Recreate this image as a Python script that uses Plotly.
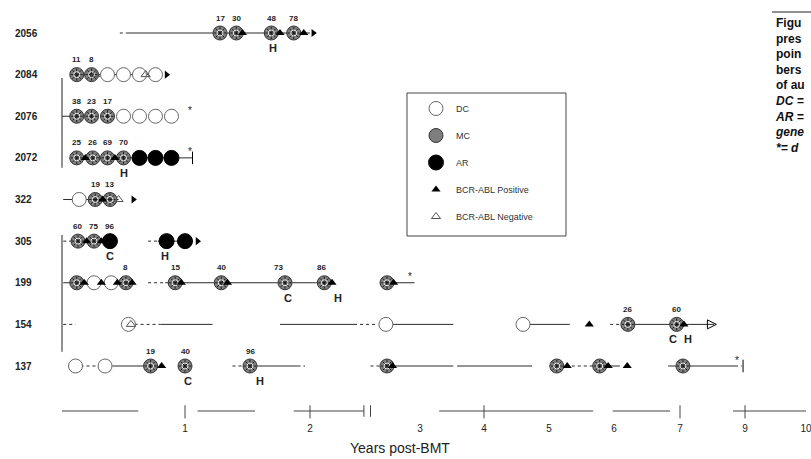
import numpy as np
import plotly.graph_objects as go

# ---------------- data ----------------
ROWS = ["137", "154", "199", "305", "322", "2072", "2076", "2084", "2056"]

# broken / non-linear time axis: year -> axis position
TICK_YEARS = [0, 1, 2, 3, 4, 5, 6, 7, 9, 10]
TICK_POS = [62, 185, 310, 420, 484, 549, 614, 680, 745, 806]
TICK_TEXT = ["1", "2", "3", "4", "5", "6", "7", "9", "10"]

DC_PTS = [("2084", 0.37), ("2084", 0.50), ("2084", 0.63), ("2084", 0.76),
          ("2076", 0.50), ("2076", 0.63), ("2076", 0.76), ("2076", 0.89),
          ("322", 0.14), ("199", 0.26), ("199", 0.40),
          ("154", 0.54), ("154", 2.69), ("154", 4.60),
          ("137", 0.11), ("137", 0.35)]
MC_PTS = [("2056", 1.28), ("2056", 1.41), ("2056", 1.69), ("2056", 1.87),
          ("2084", 0.12), ("2084", 0.24),
          ("2076", 0.12), ("2076", 0.24), ("2076", 0.37),
          ("2072", 0.12), ("2072", 0.25), ("2072", 0.37), ("2072", 0.50),
          ("322", 0.27), ("322", 0.39),
          ("305", 0.13), ("305", 0.26),
          ("199", 0.12), ("199", 0.52), ("199", 0.92), ("199", 1.29), ("199", 1.80),
          ("199", 2.13), ("199", 2.70),
          ("154", 6.21), ("154", 6.95),
          ("137", 0.72), ("137", 1.00), ("137", 1.52), ("137", 2.70), ("137", 5.12),
          ("137", 5.78), ("137", 7.09)]
AR_PTS = [("2072", 0.63), ("2072", 0.76), ("2072", 0.89),
          ("305", 0.39), ("305", 0.85), ("305", 1.00)]
POS_PTS = [("2056", 1.46), ("2056", 1.76), ("2056", 1.95),
           ("2072", 0.19), ("2072", 0.43), ("322", 0.33),
           ("305", 0.20), ("305", 0.32),
           ("199", 0.18), ("199", 0.32), ("199", 0.45), ("199", 0.57), ("199", 0.97),
           ("199", 1.34), ("199", 2.20), ("199", 2.76),
           ("154", 5.62), ("154", 7.12),
           ("137", 0.81), ("137", 2.75), ("137", 5.28), ("137", 5.91), ("137", 6.20)]
NEG_PTS = [("2084", 0.27), ("2084", 0.68), ("322", 0.46), ("154", 0.56)]

PCT_LABELS = [("2056", 1.28, "17"), ("2056", 1.41, "30"), ("2056", 1.69, "48"), ("2056", 1.87, "78"),
              ("2084", 0.12, "11"), ("2084", 0.24, "8"),
              ("2076", 0.12, "38"), ("2076", 0.24, "23"), ("2076", 0.37, "17"),
              ("2072", 0.12, "25"), ("2072", 0.25, "26"), ("2072", 0.37, "69"), ("2072", 0.50, "70"),
              ("322", 0.27, "19"), ("322", 0.39, "13"),
              ("305", 0.13, "60"), ("305", 0.26, "75"), ("305", 0.39, "96"),
              ("199", 0.52, "8"), ("199", 0.92, "15"), ("199", 1.29, "40"), ("199", 1.75, "73"),
              ("199", 2.10, "86"),
              ("154", 6.21, "26"), ("154", 6.95, "60"),
              ("137", 0.72, "19"), ("137", 1.00, "40"), ("137", 1.52, "96")]
EVENTS = [("2056", 1.70, "H"), ("2072", 0.50, "H"), ("305", 0.39, "C"), ("305", 0.84, "H"),
          ("199", 1.82, "C"), ("199", 2.25, "H"), ("154", 6.89, "C"), ("154", 7.25, "H"),
          ("137", 1.02, "C"), ("137", 1.60, "H")]

SOLID = [("2056", 0.53, 2.00), ("2084", 0.12, 0.80), ("2076", 0.00, 0.12), ("2072", 0.12, 1.06),
         ("322", 0.01, 0.46), ("305", 0.08, 0.39), ("305", 0.78, 1.06),
         ("199", 0.01, 0.57), ("199", 0.84, 2.05), ("199", 2.13, 2.20), ("199", 2.70, 2.95),
         ("154", 0.80, 1.22), ("154", 1.76, 2.40), ("154", 2.69, 3.52), ("154", 4.63, 5.32),
         ("154", 6.21, 6.85), ("154", 6.95, 8.05),
         ("137", 0.41, 0.67), ("137", 1.52, 1.90), ("137", 2.70, 3.52), ("137", 3.58, 4.74),
         ("137", 5.78, 6.09), ("137", 6.82, 8.69)]
DOTTED = [("2056", 0.47, 0.53), ("305", 0.01, 0.08), ("305", 0.70, 0.78),
          ("199", 0.70, 0.84), ("199", 2.05, 2.13), ("199", 2.64, 2.70),
          ("154", 0.01, 0.11), ("154", 0.59, 0.80), ("154", 2.40, 2.62), ("154", 5.94, 6.21),
          ("137", 0.15, 0.30), ("137", 1.38, 1.50), ("137", 1.90, 1.96), ("137", 2.55, 2.70),
          ("137", 5.35, 5.70), ("137", 8.69, 8.90)]
ARROWS = [("2056", 2.03), ("2084", 0.85), ("322", 0.58), ("305", 1.10)]
OPEN_ARROWS = [("154", 8.12)]
END_BARS = [("2072", 1.06), ("137", 8.94)]
DEATHS = [("2076", 1.04), ("2072", 1.04), ("199", 2.91), ("137", 8.75)]
# vertical bracket at time 0 (row-index span)
BRACKETS = [(6.92, 4.76), (3.15, 0.34)]
# visible pieces of the scanned axis line (years)
AXIS_PIECES = [(0.0, 0.62), (1.10, 1.56), (1.87, 2.49), (3.30, 5.68), (5.98, 6.85), (8.63, 10.1)]
AXIS_TICKS = [1, 2, 4, 7, 9]
AXIS_BREAK = [2.49, 2.55]

CAPTION_BOLD = ["Figu", "pres", "poin", "bers", "of au"]
CAPTION_ITALIC = ["DC =", "AR =", "gene", "*= d"]

LEGEND_NAMES = ["DC", "MC", "AR", "BCR-ABL Positive", "BCR-ABL Negative"]

# ---------------- helpers ----------------
def xp(year):
    return float(np.interp(year, TICK_YEARS, TICK_POS))

def yr(row):
    return ROWS.index(row)

def pts(lst):
    return [xp(p[1]) for p in lst], [yr(p[0]) for p in lst]

def seg_xy(segs):
    xs, ys = [], []
    for r, a, b in segs:
        xs += [xp(a), xp(b), None]
        ys += [yr(r), yr(r), None]
    return xs, ys

INK = "#2b2b2b"
fig = go.Figure()

sx, sy = seg_xy(SOLID)
fig.add_trace(go.Scatter(x=sx, y=sy, mode="lines", line=dict(color=INK, width=1), showlegend=False, hoverinfo="skip"))
dx, dy = seg_xy(DOTTED)
fig.add_trace(go.Scatter(x=dx, y=dy, mode="lines", line=dict(color=INK, width=1, dash="dot"), showlegend=False, hoverinfo="skip"))
bx, by = [], []
for a, b in BRACKETS:
    bx += [xp(0), xp(0), None]
    by += [a, b, None]
fig.add_trace(go.Scatter(x=bx, y=by, mode="lines", line=dict(color="#555", width=1.3), showlegend=False, hoverinfo="skip"))

x, y = pts(DC_PTS)
fig.add_trace(go.Scatter(x=x, y=y, mode="markers", name=LEGEND_NAMES[0], legendgroup="a",
                         marker=dict(symbol="circle", size=14, color="white", line=dict(color="#666", width=1))))
x, y = pts(MC_PTS)
fig.add_trace(go.Scatter(x=x, y=y, mode="markers", name=LEGEND_NAMES[1], legendgroup="b",
                         marker=dict(symbol="circle", size=14, color="#7e7e7e", line=dict(color="#333", width=1))))
fig.add_trace(go.Scatter(x=x, y=y, mode="markers", showlegend=False, hoverinfo="skip",
                         marker=dict(symbol="asterisk-open", size=10, color="#1e1e1e", line=dict(color="#1e1e1e", width=1))))
fig.add_trace(go.Scatter(x=x, y=y, mode="markers", showlegend=False, hoverinfo="skip",
                         marker=dict(symbol="circle-open", size=6, color="#eeeeee", line=dict(color="#dddddd", width=1))))
x, y = pts(AR_PTS)
fig.add_trace(go.Scatter(x=x, y=y, mode="markers", name=LEGEND_NAMES[2], legendgroup="c",
                         marker=dict(symbol="circle", size=15, color="black", line=dict(color="black", width=1))))
x, y = pts(POS_PTS)
fig.add_trace(go.Scatter(x=x, y=y, mode="markers", name=LEGEND_NAMES[3], legendgroup="d",
                         marker=dict(symbol="triangle-up", size=8, color="black", line=dict(width=0))))
x, y = pts(NEG_PTS)
fig.add_trace(go.Scatter(x=x, y=y, mode="markers", name=LEGEND_NAMES[4], legendgroup="e",
                         marker=dict(symbol="triangle-up-open", size=8, color="#555", line=dict(color="#555", width=1))))
x, y = pts(ARROWS)
fig.add_trace(go.Scatter(x=x, y=y, mode="markers", showlegend=False, hoverinfo="skip",
                         marker=dict(symbol="triangle-right", size=7, color="black")))
x, y = pts(OPEN_ARROWS)
fig.add_trace(go.Scatter(x=x, y=y, mode="markers", showlegend=False, hoverinfo="skip",
                         marker=dict(symbol="arrow-right-open", size=9, color="black", line=dict(color="black", width=1))))
x, y = pts(END_BARS)
fig.add_trace(go.Scatter(x=x, y=y, mode="markers", showlegend=False, hoverinfo="skip",
                         marker=dict(symbol="line-ns-open", size=9, color="black", line=dict(color="black", width=1))))

ann = []
for r in ROWS:
    ann.append(dict(x=13 / 811, xref="paper", y=yr(r), yref="y", text="<b>%s</b>" % r, showarrow=False,
                    xanchor="left", font=dict(family="Liberation Sans", size=10, color="#222")))
for r, t, s in PCT_LABELS:
    ann.append(dict(x=xp(t), y=yr(r), text="<b>%s</b>" % s, showarrow=False, yshift=15,
                    font=dict(family="Liberation Sans", size=8, color="#222")))
for r, t, s in EVENTS:
    ann.append(dict(x=xp(t), y=yr(r), text="<b>%s</b>" % s, showarrow=False, yshift=-15,
                    font=dict(family="Liberation Sans", size=11, color="#222")))
for r, t in DEATHS:
    ann.append(dict(x=xp(t), y=yr(r), text="*", showarrow=False, yshift=6,
                    font=dict(family="Liberation Sans", size=10, color="#222")))

# caption block (cut off by the right page edge in the reference)
cap_lines = ["<b>%s</b>" % s for s in CAPTION_BOLD] + ["<b><i>%s</i></b>" % s for s in CAPTION_ITALIC]
ann.append(dict(x=773 / 811, xref="paper", y=(411 - 14) / 411, yref="paper", text="<br>".join(cap_lines),
                showarrow=False, xanchor="left", yanchor="top", align="left",
                font=dict(family="Liberation Sans", size=12, color="#111")))
# axis title
ann.append(dict(x=400 / 811, xref="paper", y=-47 / 411, yref="paper", text="Years post-BMT", showarrow=False,
                xanchor="center", yanchor="bottom", font=dict(family="Liberation Sans", size=14, color="#222")))

shapes = []
for a, b in AXIS_PIECES:
    shapes.append(dict(type="line", xref="x", yref="paper", x0=xp(a), x1=xp(b), y0=0, y1=0,
                       line=dict(color="#444", width=1)))
for t in AXIS_TICKS:
    shapes.append(dict(type="line", xref="x", yref="paper", x0=xp(t), x1=xp(t), y0=0.014, y1=-0.018,
                       line=dict(color="#444", width=1)))
for t in AXIS_BREAK:
    shapes.append(dict(type="line", xref="x", yref="paper", x0=xp(t), x1=xp(t), y0=0.014, y1=-0.014,
                       line=dict(color="#444", width=1)))
# legend frame
shapes.append(dict(type="rect", xref="paper", yref="paper", x0=407 / 811, x1=566 / 811,
                   y0=(411 - 236) / 411, y1=(411 - 93) / 411, line=dict(color="#444", width=1)))
# caption rule
shapes.append(dict(type="line", xref="paper", yref="paper", x0=772 / 811, x1=1.0,
                   y0=(411 - 12) / 411, y1=(411 - 12) / 411, line=dict(color="#222", width=1)))

fig.update_layout(
    width=811, height=459, margin=dict(l=0, r=0, t=0, b=48),
    plot_bgcolor="white", paper_bgcolor="white",
    xaxis=dict(range=[0, 811], tickvals=[xp(v) for v in TICK_YEARS[1:]], ticktext=TICK_TEXT,
               ticks="", showline=False, showgrid=False, zeroline=False, ticklabelstandoff=10,
               ticklabeloverflow="allow",
               tickfont=dict(family="Liberation Sans", size=10, color="#222")),
    yaxis=dict(range=[-1.081, 8.793], visible=False),
    legend=dict(x=416 / 811, y=(411 - 94) / 411, xanchor="left", yanchor="top",
                font=dict(family="Liberation Sans", size=9, color="#333"),
                bgcolor="rgba(0,0,0,0)", tracegroupgap=8, itemsizing="trace"),
    annotations=ann, shapes=shapes, showlegend=True,
)
fig.write_html("out.html", config={"displayModeBar": False})
